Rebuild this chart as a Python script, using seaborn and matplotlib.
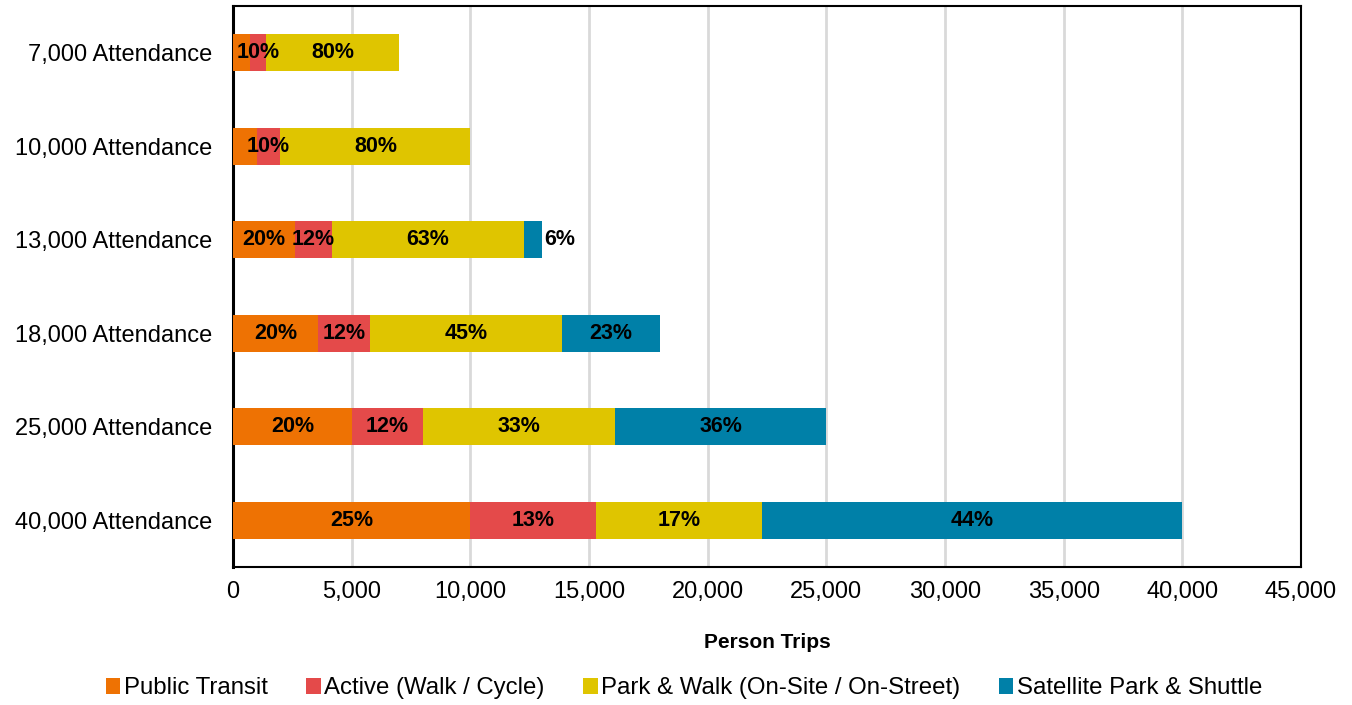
import numpy as np
import pandas as pd
import matplotlib
matplotlib.use("Agg")
import matplotlib.pyplot as plt
import seaborn as sns
from matplotlib.ticker import FuncFormatter, MultipleLocator
from matplotlib.patches import Patch

categories = ["7,000 Attendance", "10,000 Attendance", "13,000 Attendance",
              "18,000 Attendance", "25,000 Attendance", "40,000 Attendance"]
series = ["Public Transit", "Active (Walk / Cycle)",
          "Park & Walk (On-Site / On-Street)", "Satellite Park & Shuttle"]
colors = ["#EE7203", "#E44A4A", "#DFC500", "#0080A8"]

public_transit = [700, 1000, 2600, 3600, 5000, 10000]
active = [700, 1000, 1560, 2160, 3000, 5300]
park_walk = [5600, 8000, 8100, 8100, 8100, 7000]
satellite = [0, 0, 740, 4140, 8900, 17700]

lbl_transit = ["", "", "20%", "20%", "20%", "25%"]
lbl_active = ["10%", "10%", "12%", "12%", "12%", "13%"]
lbl_park = ["80%", "80%", "63%", "45%", "33%", "17%"]
lbl_sat = ["", "", "6%", "23%", "36%", "44%"]

values = [public_transit, active, park_walk, satellite]
labels = [lbl_transit, lbl_active, lbl_park, lbl_sat]

sns.set_theme(style="white")
plt.rcParams['font.family'] = ['Liberation Sans', 'DejaVu Sans']
plt.rcParams['text.color'] = 'black'

fig = plt.figure(figsize=(13.52, 7.05), dpi=100)
ax = fig.add_axes([233/1352, 1 - 567/705, (1301-233)/1352, (567-6)/705])

vals = np.array(values, dtype=float)
cum = np.cumsum(vals, axis=0)

# overlay cumulative bars from total down to first series
for i in range(len(series) - 1, -1, -1):
    df = pd.DataFrame({"cat": categories, "val": cum[i]})
    sns.barplot(data=df, y="cat", x="val", orient="h", order=categories,
                color=colors[i], width=0.4, linewidth=0, saturation=1,
                ax=ax, zorder=3)

# data labels
for i in range(len(series)):
    for j in range(len(categories)):
        txt = labels[i][j]
        if not txt:
            continue
        left = cum[i][j] - vals[i][j]
        w = vals[i][j]
        if i == len(series) - 1 and w < 1000:
            ax.text(cum[i][j] + 120, j, txt, ha="left", va="center",
                    fontsize=15.5, fontweight="bold", color="black", zorder=5)
        else:
            ax.text(left + w / 2, j, txt, ha="center", va="center",
                    fontsize=15.5, fontweight="bold", color="black", zorder=5)

ax.set_xlim(0, 45000)
ax.set_ylim(5.5, -0.5)
ax.xaxis.set_major_locator(MultipleLocator(5000))
ax.xaxis.set_major_formatter(FuncFormatter(lambda v, p: f"{int(v):,}"))
ax.grid(axis="x", color="#D9D9D9", linewidth=2, zorder=0)
ax.grid(axis="y", visible=False)
ax.set_axisbelow(True)

for s in ax.spines.values():
    s.set_visible(True)
    s.set_color("black")
    s.set_linewidth(1.5)
ax.spines["left"].set_linewidth(2.2)

ax.tick_params(axis="x", labelsize=17, length=0, pad=10, colors="black")
ax.tick_params(axis="y", labelsize=17, length=0, pad=15, colors="black")
ax.set_ylabel("")
ax.set_xlabel("Person Trips", fontsize=15, fontweight="bold", labelpad=22,
              color="black")

handles = [Patch(facecolor=c, edgecolor="none") for c in colors]
leg = fig.legend(handles, series, loc="center",
                 bbox_to_anchor=(684/1352, 1 - 688/705),
                 ncol=4, frameon=False, fontsize=17.3, handlelength=0.6,
                 handleheight=0.65, handletextpad=0.15, columnspacing=1.6)
for t in leg.get_texts():
    t.set_color("black")

fig.savefig("out.png", dpi=100)
